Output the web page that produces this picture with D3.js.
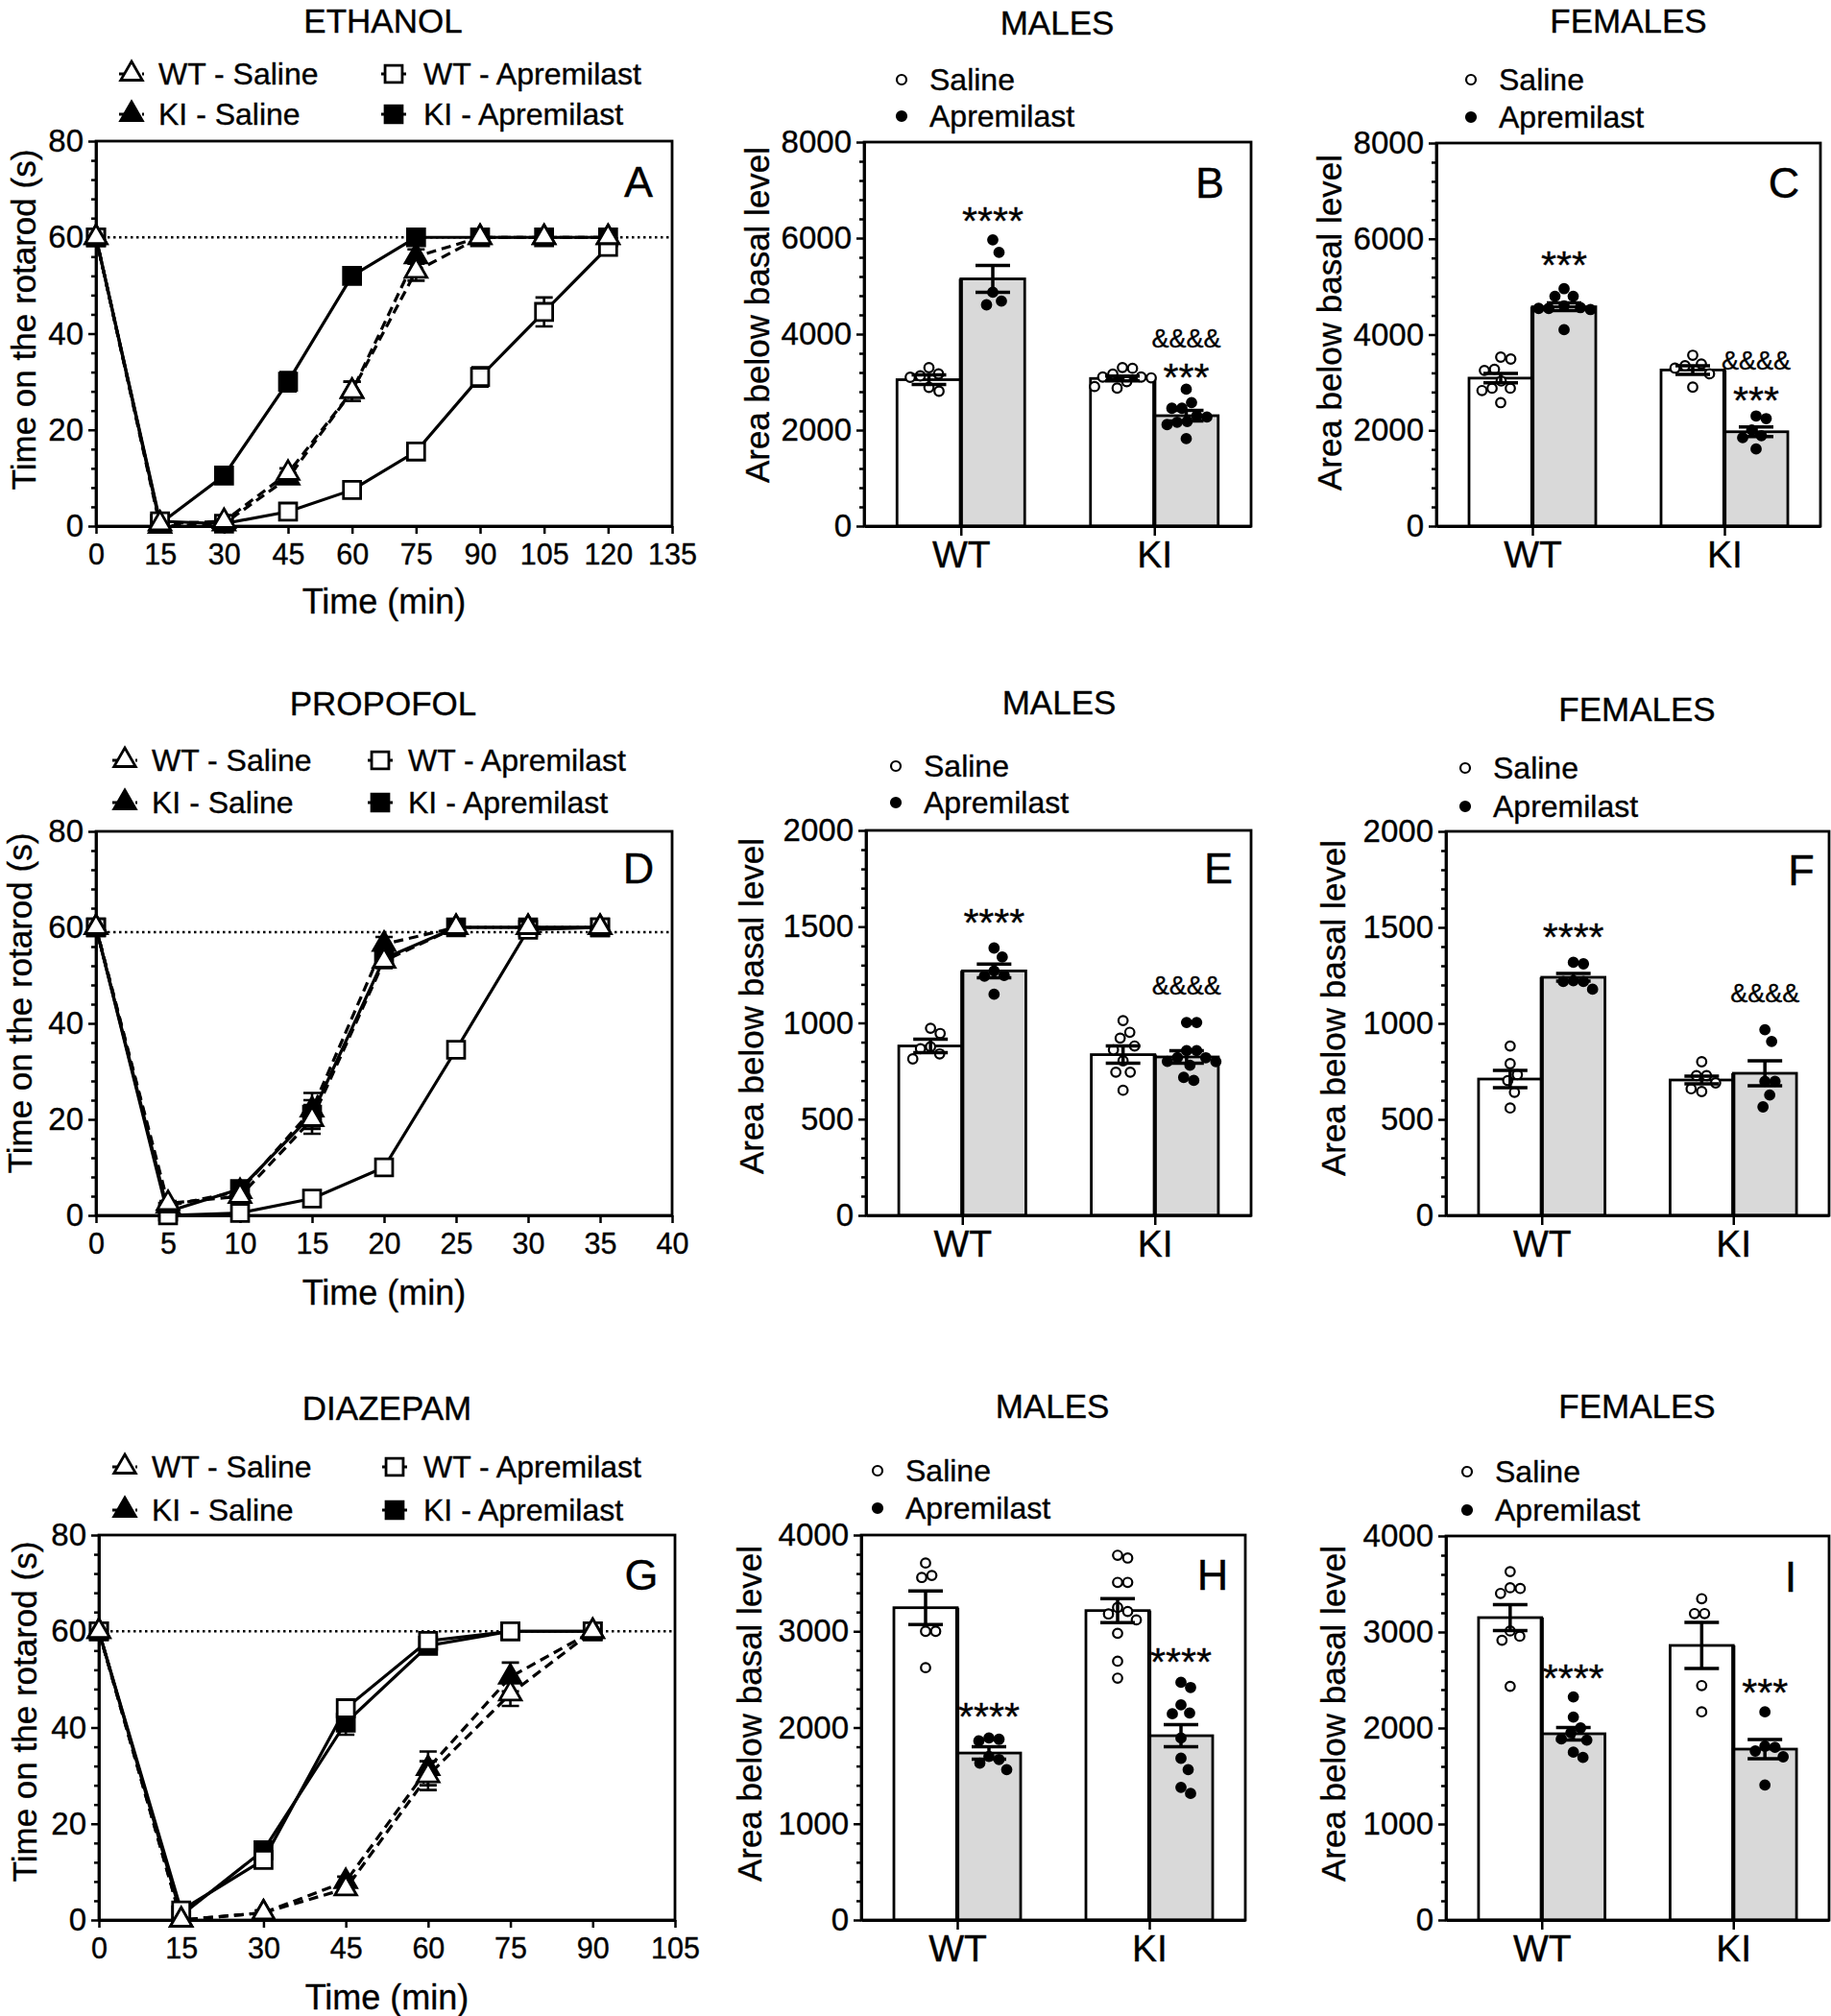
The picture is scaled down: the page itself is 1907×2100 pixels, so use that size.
<!DOCTYPE html>
<html><head><meta charset="utf-8">
<script src="https://cdn.jsdelivr.net/npm/d3@7"></script>
<style>body{margin:0;background:#fff}svg{display:block}svg text{stroke:#000;stroke-width:0.35px}</style>
</head><body>
<svg id="chart" width="1907" height="2100"></svg>
<script>
// ================= DATA =================
// Rotarod time courses (s), mean and SEM
const lineYTicks = [0, 20, 40, 60, 80];

// A - Ethanol
const ethTime = [0, 15, 30, 45, 60, 75, 90, 105, 120];
const ethXTicks = [0, 15, 30, 45, 60, 75, 90, 105, 120, 135];
const ethWTSal = [60, 0.5, 1, 11, 28, 53, 60, 60, 60];
const ethWTSalSem = [0, 0, 0.5, 1, 2, 2, 0, 0, 0];
const ethKISal = [60, 0, 0.5, 10, 28, 56, 60, 60, 60];
const ethKISalSem = [0, 0, 0.3, 1, 2, 1.5, 0, 0, 0];
const ethWTApr = [60, 1, 0.5, 3, 7.5, 15.5, 31, 44.5, 58];
const ethWTAprSem = [0, 0.5, 0.3, 0.5, 1, 1, 2, 3, 1];
const ethKIApr = [60, 0.5, 10.5, 30, 52, 60, 60, 60, 60];
const ethKIAprSem = [0, 0.3, 1, 2, 1.5, 0, 0, 0, 0];

// D - Propofol
const propTime = [0, 5, 10, 15, 20, 25, 30, 35];
const propXTicks = [0, 5, 10, 15, 20, 25, 30, 35, 40];
const propWTSal = [60, 2.5, 4, 20, 53, 60, 60, 60];
const propWTSalSem = [0, 0.5, 1, 3, 1.5, 0, 0, 0];
const propKISal = [60, 2, 5, 22, 56.5, 60, 60, 60];
const propKISalSem = [0, 0.5, 1, 3.5, 1.5, 0, 0, 0];
const propWTApr = [60, 0, 0.5, 3.5, 10, 34.5, 59.5, 60];
const propWTAprSem = [0, 0.3, 0.5, 0.5, 1, 1, 0.5, 0];
const propKIApr = [60, 0.8, 5.5, 21, 53.5, 60, 60, 60];
const propKIAprSem = [0, 0.3, 1, 3, 1.5, 0, 0, 0];

// G - Diazepam
const diazTime = [0, 15, 30, 45, 60, 75, 90];
const diazXTicks = [0, 15, 30, 45, 60, 75, 90, 105];
const diazWTSal = [60, 0, 1.5, 6.5, 30, 47, 60];
const diazWTSalSem = [0, 0, 0.5, 1, 3, 2.5, 0];
const diazKISal = [60, 0, 1.5, 8, 31.5, 50.5, 60];
const diazKISalSem = [0, 0, 0.5, 1, 3.5, 3, 0];
const diazWTApr = [60, 2, 12.5, 44, 58, 60, 60];
const diazWTAprSem = [0, 0.5, 1, 1.5, 1, 0, 0];
const diazKIApr = [60, 1, 14.5, 41, 57, 60, 60];
const diazKIAprSem = [0, 0.5, 1, 2.5, 1, 0, 0];

// Area below basal level: order WT-Saline, WT-Apremilast, KI-Saline, KI-Apremilast
const groups = ['WT', 'KI'];
const treatments = ['Saline', 'Apremilast'];
const ethBarYTicks = [0, 2000, 4000, 6000, 8000];
const propBarYTicks = [0, 500, 1000, 1500, 2000];
const diazBarYTicks = [0, 1000, 2000, 3000, 4000];

// B - Ethanol males
const ethMaleMeans = [3050, 5150, 3075, 2300];
const ethMaleSems = [100, 280, 50, 110];
const ethMaleWTSalPts = [3170, 3300, 3100, 2810, 2890, 3130];
const ethMaleWTAprPts = [5964, 5702, 4871, 4689, 4610];
const ethMaleKISalPts = [3303, 3089, 2875, 3168, 3105, 2907, 3105, 3287, 3010];
const ethMaleKIAprPts = [2574, 2297, 2273, 2851, 1822, 2455, 2162, 2455, 2115, 2180];
// C - Ethanol females
const ethFemMeans = [3090, 4580, 3260, 1970];
const ethFemSems = [100, 80, 90, 100];
const ethFemWTSalPts = [3489, 3529, 3251, 3275, 3029, 2879, 2879, 2831, 2577];
const ethFemWTAprPts = [4800, 4958, 4800, 4546, 4546, 4522, 4562, 4102, 4600];
const ethFemKISalPts = [3568, 3386, 3299, 3180, 3350, 2902];
const ethFemKIAprPts = [2300, 2245, 2007, 1888, 1847, 1610];
// E - Propofol males
const propMaleMeans = [880, 1270, 835, 823];
const propMaleSems = [35, 35, 45, 32];
const propMaleWTSalPts = [972, 945, 876, 866, 839, 813];
const propMaleWTAprPts = [1389, 1342, 1247, 1243, 1149, 1270];
const propMaleKISalPts = [1012, 951, 921, 880, 860, 803, 744, 744, 650];
const propMaleKIAprPts = [1002, 1002, 856, 856, 820, 819, 799, 780, 701, 717, 800];
// F - Propofol females
const propFemMeans = [710, 1240, 705, 740];
const propFemSems = [45, 20, 20, 65];
const propFemWTSalPts = [882, 790, 733, 702, 641, 559];
const propFemWTAprPts = [1310, 1318, 1222, 1218, 1178, 1218];
const propFemKISalPts = [800, 728, 728, 645, 659, 690];
const propFemKIAprPts = [967, 906, 698, 698, 627, 565];
// H - Diazepam males
const diazMaleMeans = [3245, 1735, 3215, 1915];
const diazMaleSems = [175, 65, 125, 115];
const diazMaleWTSalPts = [3709, 3580, 3559, 3000, 3000, 2622];
const diazMaleWTAprPts = [1878, 1861, 1891, 1668, 1630, 1563, 1700];
const diazMaleKISalPts = [3790, 3761, 3508, 3508, 3206, 3248, 3180, 3118, 2979, 2689, 2513];
const diazMaleKIAprPts = [2470, 2416, 2151, 2235, 2143, 1891, 1681, 1563, 1378, 1315];
// I - Diazepam females
const diazFemMeans = [3150, 1940, 2860, 1780];
const diazFemSems = [135, 65, 240, 100];
const diazFemWTSalPts = [3629, 3453, 3402, 3461, 3011, 2914, 2956, 2434];
const diazFemWTAprPts = [2324, 2114, 2000, 1950, 1874, 1887, 1748, 1693];
const diazFemKISalPts = [3347, 3192, 3192, 2442, 2168];
const diazFemKIAprPts = [2168, 1810, 1798, 1700, 1760, 1407];

// Significance marks: [group, treatment, value (glyph centre), text]
const ethMaleSig = [['WT','Apremilast',6580,'****'],['KI','Apremilast',3920,'&&&&'],['KI','Apremilast',3320,'***']];
const ethFemSig = [['WT','Apremilast',5670,'***'],['KI','Apremilast',3470,'&&&&'],['KI','Apremilast',2830,'***']];
const propMaleSig = [['WT','Apremilast',1572,'****'],['KI','Apremilast',1197,'&&&&']];
const propFemSig = [['WT','Apremilast',1505,'****'],['KI','Apremilast',1160,'&&&&']];
const diazMaleSig = [['WT','Apremilast',2224,'****'],['KI','Apremilast',2793,'****']];
const diazFemSig = [['WT','Apremilast',2630,'****'],['KI','Apremilast',2480,'***']];

// ================= DRAWING =================
const FONT = '"Liberation Sans", Arial, Helvetica, sans-serif';
const svg = d3.select('#chart');
const SW = 2.8;
const fmt = d3.format('d');

function styleAxis(sel, fs) {
  sel.attr('font-family', FONT).attr('font-size', fs);
  sel.selectAll('.domain').attr('stroke', '#000').attr('stroke-width', SW);
  sel.selectAll('.tick line').attr('stroke', '#000').attr('stroke-width', 2.5);
  sel.selectAll('.tick text').attr('fill', '#000');
}
function txt(g, x, y, s, fs, anchor) {
  return g.append('text').attr('x', x).attr('y', y).attr('dy', '0.35em')
    .attr('font-family', FONT).attr('font-size', fs).attr('text-anchor', anchor || 'middle')
    .attr('fill', '#000').text(s);
}
function yTitle(g, x, y, s, fs) {
  g.append('text').attr('transform', `translate(${x},${y}) rotate(-90)`).attr('dy', '0.35em')
    .attr('font-family', FONT).attr('font-size', fs).attr('text-anchor', 'middle').attr('fill', '#000').text(s);
}
const symTri = d3.symbol().type(d3.symbolTriangle).size(220);
const symSq = d3.symbol().type(d3.symbolSquare).size(320);

function makeSeries(wtS, wtSe, kiS, kiSe, wtA, wtAe, kiA, kiAe) {
  return [
    {name: 'KI - Apremilast', v: kiA, e: kiAe, shape: 'sq', filled: true, dashed: false, col: 1, row: 1},
    {name: 'WT - Apremilast', v: wtA, e: wtAe, shape: 'sq', filled: false, dashed: false, col: 1, row: 0},
    {name: 'KI - Saline', v: kiS, e: kiSe, shape: 'tri', filled: true, dashed: true, col: 0, row: 1},
    {name: 'WT - Saline', v: wtS, e: wtSe, shape: 'tri', filled: false, dashed: true, col: 0, row: 0}
  ];
}

function drawLinePanel(p) {
  const g = svg.append('g');
  const x = d3.scaleLinear().domain([0, d3.max(p.xTicks)]).range([p.left, p.right]);
  const y = d3.scaleLinear().domain([0, 80]).range([p.bottom, p.top]);
  g.append('rect').attr('x', p.left).attr('y', p.top).attr('width', p.right - p.left)
    .attr('height', p.bottom - p.top).attr('fill', 'none').attr('stroke', '#000').attr('stroke-width', SW);
  const minor = d3.range(0, 21).filter(i => i % 5).map(i => i * 4);
  g.append('g').attr('transform', `translate(${p.left},0)`)
    .call(d3.axisLeft(y).tickValues(minor).tickSize(5).tickFormat(() => '').tickSizeOuter(0))
    .call(a => a.select('.domain').remove()).call(styleAxis, 33);
  g.append('g').attr('transform', `translate(${p.left},0)`)
    .call(d3.axisLeft(y).tickValues(lineYTicks).tickFormat(fmt).tickSize(8).tickPadding(5).tickSizeOuter(0))
    .call(styleAxis, 33);
  g.append('g').attr('transform', `translate(0,${p.bottom})`)
    .call(d3.axisBottom(x).tickValues(p.xTicks).tickFormat(fmt).tickSize(8).tickPadding(10).tickSizeOuter(0))
    .call(styleAxis, 30.5);
  // reference dotted line
  g.append('line').attr('x1', p.left).attr('x2', p.right).attr('y1', y(p.ref)).attr('y2', y(p.ref))
    .attr('stroke', '#000').attr('stroke-width', 2.6).attr('stroke-dasharray', '2.5,3.5');
  const line = d3.line().x((d, i) => x(p.times[i])).y(d => y(d));
  p.series.forEach(s => g.append('path').datum(s.v).attr('d', line).attr('fill', 'none')
    .attr('stroke', '#000').attr('stroke-width', 3.2).attr('stroke-dasharray', s.dashed ? '10,6' : null));
  p.series.forEach(s => {
    s.v.forEach((v, i) => {
      const e = s.e[i];
      if (!e) return;
      const cx = x(p.times[i]), y1 = y(Math.max(0, v - e)), y2 = y(v + e), c = 9;
      g.append('path').attr('d', `M${cx},${y1}V${y2}M${cx - c},${y2}H${cx + c}M${cx - c},${y1}H${cx + c}`)
        .attr('stroke', '#000').attr('stroke-width', 2.6).attr('fill', 'none');
    });
  });
  p.series.forEach(s => {
    g.append('g').selectAll('path').data(s.v).join('path')
      .attr('transform', (d, i) => `translate(${x(p.times[i])},${y(d)})`)
      .attr('d', s.shape === 'tri' ? symTri() : symSq())
      .attr('fill', s.filled ? '#000' : '#fff').attr('stroke', '#000').attr('stroke-width', 2.8);
  });
  // legend
  p.series.forEach(s => {
    const mx = p.legCols[s.col][0], tx = p.legCols[s.col][1], my = p.legRows[s.row];
    g.append('line').attr('x1', mx - 13).attr('x2', mx + 13).attr('y1', my).attr('y2', my)
      .attr('stroke', '#000').attr('stroke-width', 3).attr('stroke-dasharray', s.dashed ? '5,3' : null);
    g.append('path').attr('transform', `translate(${mx},${my})`).attr('d', s.shape === 'tri' ? symTri() : symSq())
      .attr('fill', s.filled ? '#000' : '#fff').attr('stroke', '#000').attr('stroke-width', 2.8);
    txt(g, tx, my, s.name, 32, 'start');
  });
  txt(g, p.titleX, p.titleY, p.title, 35);
  txt(g, p.letterX, p.letterY, p.letter, 45);
  txt(g, (p.left + p.right) / 2, p.xTitleY, 'Time (min)', 36);
  yTitle(g, p.yTitleX, p.yTitleY, 'Time on the rotarod (s)', 35);
}

// spread points horizontally where they would overlap (elliptical footprint)
function swarm(vals, y, cx) {
  const Dx = 10.5, Dy = 16;
  const order = vals.map((v, i) => i).sort((a, b) => vals[b] - vals[a]);
  const placed = [], xs = new Array(vals.length);
  order.forEach(i => {
    const py = y(vals[i]);
    for (let k = 0; k < 800; k++) {
      const off = (k % 2 ? 1 : -1) * Math.ceil(k / 2) * 0.5;
      const px = cx + off;
      if (placed.every(q => ((q[0] - px) / Dx) ** 2 + ((q[1] - py) / Dy) ** 2 >= 1)) {
        placed.push([px, py]); xs[i] = px; break;
      }
    }
  });
  return xs;
}

function drawBarPanel(p) {
  const g = svg.append('g');
  const x = d3.scaleBand().domain(groups).range([p.left, p.right]).paddingInner(0.34).paddingOuter(0.17);
  const xs = d3.scaleBand().domain(treatments).range([0, x.bandwidth()]);
  const xc = d3.scalePoint().domain(groups).range([p.left, p.right]).padding(0.5);
  const yMax = d3.max(p.yTicks);
  const y = d3.scaleLinear().domain([0, yMax]).range([p.bottom, p.top]);
  const cells = [];
  groups.forEach((gr, gi) => treatments.forEach((tr, ti) => {
    const k = gi * 2 + ti;
    cells.push({group: gr, treat: tr, mean: p.means[k], sem: p.sems[k], pts: p.points[k]});
  }));
  const barX = d => x(d.group) + xs(d.treat);
  const barC = d => barX(d) + xs.bandwidth() / 2;
  g.append('g').selectAll('rect').data(cells).join('rect')
    .attr('x', barX).attr('width', xs.bandwidth())
    .attr('y', d => y(d.mean)).attr('height', d => y(0) - y(d.mean))
    .attr('fill', d => d.treat === 'Saline' ? '#fff' : '#d9d9d9')
    .attr('stroke', '#000').attr('stroke-width', SW);
  // heavier divider between paired bars
  g.append('g').selectAll('line').data(groups).join('line')
    .attr('x1', d => xc(d)).attr('x2', d => xc(d))
    .attr('y1', d => y(Math.max(p.means[groups.indexOf(d) * 2], p.means[groups.indexOf(d) * 2 + 1])))
    .attr('y2', p.bottom).attr('stroke', '#000').attr('stroke-width', 4.2);
  // frame and axes
  g.append('rect').attr('x', p.left).attr('y', p.top).attr('width', p.right - p.left)
    .attr('height', p.bottom - p.top).attr('fill', 'none').attr('stroke', '#000').attr('stroke-width', SW);
  const minor = d3.range(0, 21).filter(i => i % 5).map(i => i * yMax / 20);
  g.append('g').attr('transform', `translate(${p.left},0)`)
    .call(d3.axisLeft(y).tickValues(minor).tickSize(5).tickFormat(() => '').tickSizeOuter(0))
    .call(a => a.select('.domain').remove()).call(styleAxis, 33);
  g.append('g').attr('transform', `translate(${p.left},0)`)
    .call(d3.axisLeft(y).tickValues(p.yTicks).tickFormat(fmt).tickSize(8).tickPadding(5).tickSizeOuter(0))
    .call(styleAxis, 33);
  g.append('g').attr('transform', `translate(0,${p.bottom})`)
    .call(d3.axisBottom(xc).tickSize(10).tickPadding(5).tickSizeOuter(0))
    .call(styleAxis, 39);
  // points
  const r = 4.8;
  cells.forEach(d => {
    const pxs = swarm(d.pts, y, barC(d));
    g.append('g').selectAll('circle').data(d.pts).join('circle')
      .attr('cx', (v, i) => pxs[i]).attr('cy', v => y(v)).attr('r', r)
      .attr('fill', d.treat === 'Saline' ? '#fff' : '#000').attr('stroke', '#000').attr('stroke-width', 2.2);
  });
  // error bars
  cells.forEach(d => {
    const cx = barC(d), y1 = y(d.mean - d.sem), y2 = y(d.mean + d.sem), c = 18;
    g.append('path').attr('d', `M${cx},${y1}V${y2}M${cx - c},${y2}H${cx + c}M${cx - c},${y1}H${cx + c}`)
      .attr('stroke', '#000').attr('stroke-width', 3.5).attr('fill', 'none');
  });
  // significance
  p.sig.forEach(([gr, tr, v, s]) => {
    const cx = x(gr) + xs(tr) + xs.bandwidth() / 2;
    const amp = s[0] === '&';
    g.append('text').attr('x', cx).attr('y', y(v)).attr('dy', amp ? '0.36em' : '0.6em')
      .attr('font-family', FONT).attr('font-size', amp ? 27 : 41).attr('text-anchor', 'middle')
      .attr('fill', '#000').text(s);
  });
  // legend
  treatments.forEach((tr, i) => {
    const ly = p.legRows[i];
    g.append('circle').attr('cx', p.legX).attr('cy', ly).attr('r', 5)
      .attr('fill', tr === 'Saline' ? '#fff' : '#000').attr('stroke', '#000').attr('stroke-width', 2.2);
    txt(g, p.legX + 29, ly, tr, 32, 'start');
  });
  txt(g, p.titleX, p.titleY, p.title, 35);
  txt(g, p.letterX, p.letterY, p.letter, 45);
  yTitle(g, p.yTitleX, p.yTitleY, 'Area below basal level', 35);
}

// ---- line panels ----
drawLinePanel({left: 100, right: 700, top: 147, bottom: 548, xTicks: ethXTicks, times: ethTime, ref: 60,
  series: makeSeries(ethWTSal, ethWTSalSem, ethKISal, ethKISalSem, ethWTApr, ethWTAprSem, ethKIApr, ethKIAprSem),
  legCols: [[137, 165], [410, 441]], legRows: [77, 119], title: 'ETHANOL', titleX: 399, titleY: 22,
  letter: 'A', letterX: 665, letterY: 189, xTitleY: 626, yTitleX: 25, yTitleY: 333});
drawLinePanel({left: 100, right: 700, top: 866, bottom: 1266, xTicks: propXTicks, times: propTime, ref: 59,
  series: makeSeries(propWTSal, propWTSalSem, propKISal, propKISalSem, propWTApr, propWTAprSem, propKIApr, propKIAprSem),
  legCols: [[130, 158], [396, 425]], legRows: [792, 836], title: 'PROPOFOL', titleX: 399, titleY: 733,
  letter: 'D', letterX: 665, letterY: 904, xTitleY: 1346, yTitleX: 21, yTitleY: 1045});
drawLinePanel({left: 103, right: 703, top: 1599, bottom: 2000, xTicks: diazXTicks, times: diazTime, ref: 60,
  series: makeSeries(diazWTSal, diazWTSalSem, diazKISal, diazKISalSem, diazWTApr, diazWTAprSem, diazKIApr, diazKIAprSem),
  legCols: [[130, 158], [411, 441]], legRows: [1528, 1573], title: 'DIAZEPAM', titleX: 403, titleY: 1467,
  letter: 'G', letterX: 668, letterY: 1640, xTitleY: 2080, yTitleX: 26, yTitleY: 1783});

// ---- bar panels ----
drawBarPanel({left: 900, right: 1303, top: 148, bottom: 548, yTicks: ethBarYTicks, means: ethMaleMeans, sems: ethMaleSems,
  points: [ethMaleWTSalPts, ethMaleWTAprPts, ethMaleKISalPts, ethMaleKIAprPts], sig: ethMaleSig,
  legX: 939, legRows: [83, 121], title: 'MALES', titleX: 1101, titleY: 24, letter: 'B', letterX: 1260, letterY: 190,
  yTitleX: 789, yTitleY: 328});
drawBarPanel({left: 1496, right: 1896, top: 149, bottom: 548, yTicks: ethBarYTicks, means: ethFemMeans, sems: ethFemSems,
  points: [ethFemWTSalPts, ethFemWTAprPts, ethFemKISalPts, ethFemKIAprPts], sig: ethFemSig,
  legX: 1532, legRows: [83, 122], title: 'FEMALES', titleX: 1696, titleY: 22, letter: 'C', letterX: 1858, letterY: 190,
  yTitleX: 1385, yTitleY: 336});
drawBarPanel({left: 902, right: 1303, top: 865, bottom: 1266, yTicks: propBarYTicks, means: propMaleMeans, sems: propMaleSems,
  points: [propMaleWTSalPts, propMaleWTAprPts, propMaleKISalPts, propMaleKIAprPts], sig: propMaleSig,
  legX: 933, legRows: [798, 836], title: 'MALES', titleX: 1103, titleY: 732, letter: 'E', letterX: 1269, letterY: 904,
  yTitleX: 783, yTitleY: 1048});
drawBarPanel({left: 1506, right: 1905, top: 866, bottom: 1266, yTicks: propBarYTicks, means: propFemMeans, sems: propFemSems,
  points: [propFemWTSalPts, propFemWTAprPts, propFemKISalPts, propFemKIAprPts], sig: propFemSig,
  legX: 1526, legRows: [800, 840], title: 'FEMALES', titleX: 1705, titleY: 739, letter: 'F', letterX: 1876, letterY: 906,
  yTitleX: 1389, yTitleY: 1050});
drawBarPanel({left: 897, right: 1297, top: 1599, bottom: 2000, yTicks: diazBarYTicks, means: diazMaleMeans, sems: diazMaleSems,
  points: [diazMaleWTSalPts, diazMaleWTAprPts, diazMaleKISalPts, diazMaleKIAprPts], sig: diazMaleSig,
  legX: 914, legRows: [1532, 1571], title: 'MALES', titleX: 1096, titleY: 1465, letter: 'H', letterX: 1263, letterY: 1640,
  yTitleX: 781, yTitleY: 1785});
drawBarPanel({left: 1506, right: 1905, top: 1600, bottom: 2000, yTicks: diazBarYTicks, means: diazFemMeans, sems: diazFemSems,
  points: [diazFemWTSalPts, diazFemWTAprPts, diazFemKISalPts, diazFemKIAprPts], sig: diazFemSig,
  legX: 1528, legRows: [1533, 1573], title: 'FEMALES', titleX: 1705, titleY: 1465, letter: 'I', letterX: 1865, letterY: 1642,
  yTitleX: 1389, yTitleY: 1785});
</script>
</body></html>
